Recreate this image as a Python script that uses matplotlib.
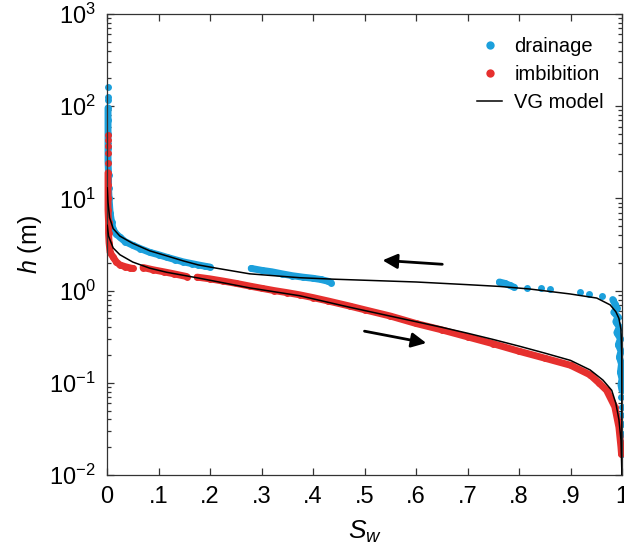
import numpy as np
import matplotlib
matplotlib.use('Agg')
import matplotlib.pyplot as plt
from matplotlib.lines import Line2D
from matplotlib.ticker import FixedLocator, FixedFormatter, LogLocator, NullFormatter

plt.rcParams['font.family'] = ['Liberation Sans', 'DejaVu Sans']
plt.rcParams['mathtext.fontset'] = 'custom'
plt.rcParams['mathtext.rm'] = 'Liberation Sans'
plt.rcParams['mathtext.it'] = 'Liberation Sans:italic'

nan = np.nan

# drainage measurements (blue), nan separates runs of dense points
drain_sw = [0.002, nan, 0.002, nan, 0.002, nan,
            0.002, 0.002, 0.002, 0.002, 0.002, 0.003, 0.003, 0.004, 0.006, 0.009,
            0.012, 0.018, 0.025, 0.035, 0.05, 0.065, 0.083, 0.1, 0.116, 0.132,
            0.148, 0.165, 0.177, 0.19, 0.20, nan,
            0.28, 0.30, 0.32, 0.34, 0.36, 0.38, 0.40, 0.415, 0.43, 0.435, nan,
            0.762, 0.772, 0.782, 0.79, nan, 0.815, nan, 0.843, nan, 0.86, nan,
            0.918, nan, 0.936, nan, 0.961, nan,
            0.982, 0.986, 0.99, 0.984, 0.992, 0.988, 0.995, 0.99, 0.997, 0.993,
            0.998, 0.995, 0.999, 0.997, 1.0, 0.998, 1.0, nan,
            0.999, nan, 1.0, nan, 0.999, nan, 1.0, nan, 1.0, nan, 1.0, nan, 1.0]
drain_h = [163, nan, 125, nan, 117, nan,
           96, 70, 50, 35, 25, 18, 13, 10, 7, 5.5,
           4.6, 4.1, 3.8, 3.4, 3.1, 2.85, 2.6, 2.45, 2.3, 2.17,
           2.05, 1.96, 1.9, 1.84, 1.8, nan,
           1.74, 1.66, 1.60, 1.52, 1.45, 1.40, 1.36, 1.32, 1.26, 1.22, nan,
           1.24, 1.20, 1.14, 1.09, nan, 1.07, nan, 1.07, nan, 1.05, nan,
           0.97, nan, 0.92, nan, 0.88, nan,
           0.80, 0.72, 0.64, 0.58, 0.52, 0.46, 0.40, 0.35, 0.30, 0.26,
           0.22, 0.19, 0.16, 0.13, 0.11, 0.095, 0.083, nan,
           0.07, nan, 0.055, nan, 0.045, nan, 0.036, nan, 0.028, nan, 0.022, nan, 0.017]

# imbibition measurements (red)
imb_sw = [0.002, nan, 0.002, nan, 0.002, nan, 0.002, nan, 0.002, nan,
          0.002, 0.002, 0.002, 0.002, 0.003, 0.003, 0.004, 0.006, 0.012, 0.018,
          0.025, 0.035, 0.045, 0.05, nan,
          0.07, 0.09, 0.11, 0.13, 0.155, nan,
          0.175, 0.2, 0.225, 0.25, 0.277, 0.30, 0.325, 0.35, 0.374, 0.40, 0.43,
          0.471, 0.50, 0.55, 0.60, 0.65, 0.70, 0.75, 0.80, 0.85, 0.90,
          0.938, 0.955, 0.97, 0.986, 0.994, 0.998, 0.999]
imb_h = [49, nan, 43, nan, 37, nan, 31, nan, 24, nan,
         19, 14, 10, 7.5, 5.5, 4.2, 3.3, 2.6, 2.3, 2.05,
         1.9, 1.82, 1.76, 1.74, nan,
         1.78, 1.68, 1.60, 1.52, 1.42, nan,
         1.40, 1.34, 1.27, 1.20, 1.12, 1.06, 1.0, 0.95, 0.90, 0.84, 0.77,
         0.68, 0.62, 0.53, 0.44, 0.375, 0.315, 0.265, 0.22, 0.185, 0.155,
         0.122, 0.10, 0.083, 0.055, 0.033, 0.02, 0.017]

# van Genuchten fits
vg_drain_sw = [0.0005, 0.002, 0.005, 0.012, 0.025, 0.05, 0.083, 0.116, 0.148, 0.177,
               0.21, 0.277, 0.374, 0.44, 0.60, 0.70, 0.762, 0.821, 0.899, 0.951,
               0.977, 0.988, 0.994, 0.998, 0.9995, 1.0]
vg_drain_h = [13, 9, 6.2, 4.7, 3.9, 3.25, 2.7, 2.38, 2.1, 1.9,
              1.76, 1.52, 1.38, 1.33, 1.24, 1.16, 1.11, 1.04, 0.92, 0.83,
              0.70, 0.59, 0.50, 0.38, 0.2, 0.01]
vg_imb_sw = [0.0005, 0.003, 0.012, 0.025, 0.05, 0.083, 0.116, 0.177, 0.277, 0.374,
             0.471, 0.60, 0.65, 0.70, 0.75, 0.80, 0.85, 0.90, 0.938,
             0.963, 0.98, 0.988, 0.994, 0.998, 0.9995, 1.0]
vg_imb_h = [5.1, 3.9, 2.9, 2.45, 2.04, 1.75, 1.58, 1.37, 1.07, 0.88,
            0.66, 0.46, 0.40, 0.345, 0.295, 0.25, 0.21, 0.175, 0.138,
            0.107, 0.083, 0.060, 0.040, 0.024, 0.012, 0.01]

x_ticks = [0, .1, .2, .3, .4, .5, .6, .7, .8, .9, 1]
x_labels = ['0', '.1', '.2', '.3', '.4', '.5', '.6', '.7', '.8', '.9', '1']
y_ticks = [1e-2, 1e-1, 1e0, 1e1, 1e2, 1e3]
y_labels = [r'$10^{-2}$', r'$10^{-1}$', r'$10^{0}$', r'$10^{1}$', r'$10^{2}$', r'$10^{3}$']

BLUE = '#1ca0dc'
RED = '#e6302e'


def draw_points(ax, sw, h, color):
    # dense runs drawn as a fat round line under the dots
    ax.plot(sw, h, '-', color=color, lw=5, solid_capstyle='round',
            solid_joinstyle='round', clip_on=False, zorder=2)
    ax.plot(sw, h, 'o', color=color, ms=5, mec='none', clip_on=False, zorder=2)


fig = plt.figure(figsize=(6.24, 5.58), dpi=100)
ax = fig.add_axes([107 / 624, 1 - 475 / 558, 515 / 624, 461 / 558])

draw_points(ax, drain_sw, drain_h, BLUE)
draw_points(ax, imb_sw, imb_h, RED)
ax.plot(vg_drain_sw, vg_drain_h, color='k', lw=1.1, zorder=3)
ax.plot(vg_imb_sw, vg_imb_h, color='k', lw=1.1, zorder=3)

# arrows showing direction of each branch
arrow = dict(arrowstyle='-|>', color='k', lw=2, mutation_scale=22, shrinkA=0, shrinkB=0)
ax.annotate('', xy=(0.535, 2.13), xytext=(0.651, 1.93), arrowprops=arrow)
ax.annotate('', xy=(0.62, 0.27), xytext=(0.50, 0.363), arrowprops=arrow)

ax.set_yscale('log')
ax.set_xlim(0, 1)
ax.set_ylim(1e-2, 1e3)
ax.xaxis.set_major_locator(FixedLocator(x_ticks))
ax.xaxis.set_major_formatter(FixedFormatter(x_labels))
ax.yaxis.set_major_locator(FixedLocator(y_ticks))
ax.yaxis.set_major_formatter(FixedFormatter(y_labels))
ax.yaxis.set_minor_locator(LogLocator(base=10, subs=np.arange(2, 10), numticks=20))
ax.yaxis.set_minor_formatter(NullFormatter())

ax.tick_params(which='both', direction='in', top=True, right=True, colors='#333333',
               labelcolor='k', width=0.9)
ax.tick_params(which='major', length=5, labelsize=17, pad=8)
ax.tick_params(which='minor', length=3)
for s in ax.spines.values():
    s.set_color('#333333')
    s.set_linewidth(0.9)

ax.set_xlabel(r'$S_w$', fontsize=19, labelpad=8)
ax.set_ylabel(r'$h$ (m)', fontsize=18, labelpad=4)

handles = [Line2D([], [], ls='none', marker='o', ms=6, color=BLUE, mec='none'),
           Line2D([], [], ls='none', marker='o', ms=6, color=RED, mec='none'),
           Line2D([], [], color='k', lw=1.1)]
ax.legend(handles, ['drainage', 'imbibition', 'VG model'], loc='upper right',
          bbox_to_anchor=(1.0, 0.99), frameon=False, fontsize=14.5,
          handlelength=1.25, handletextpad=0.6, labelspacing=0.45)

fig.savefig('out.png', dpi=100)
